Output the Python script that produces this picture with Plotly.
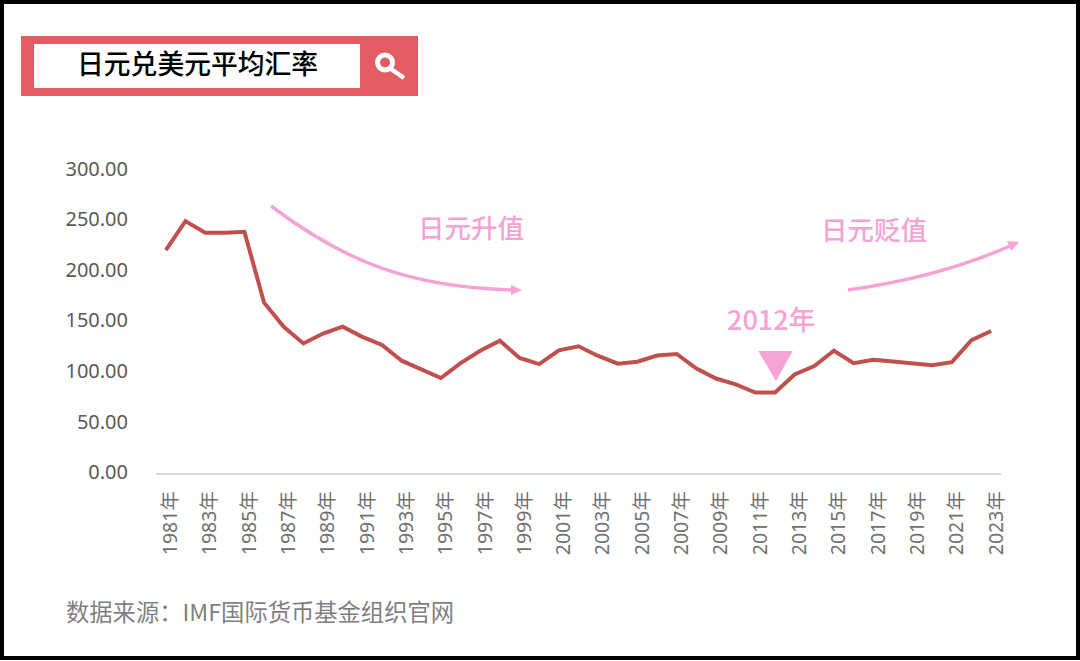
import plotly.graph_objects as go

W, H = 1080, 661
years = list(range(1981, 2024))
categories = [f"{y}年" for y in years]
rates = [220.5, 249.0, 237.5, 237.5, 238.5, 168.5, 144.6, 128.2, 138.0, 144.8,
         134.7, 126.7, 111.2, 102.2, 94.1, 108.8, 121.0, 130.9, 113.9, 107.8,
         121.5, 125.4, 115.9, 108.2, 110.2, 116.3, 117.8, 103.4, 93.6, 87.8,
         79.8, 79.8, 97.6, 105.9, 121.0, 108.8, 112.2, 110.4, 109.0, 106.8,
         109.8, 131.5, 140.5]
x_ticks = categories[::2]
y_ticks = [0, 50, 100, 150, 200, 250, 300]

RED = "#E35B63"
PINK = "#F5A3D5"
LINE = "#C0504D"
CJK = "'Noto Sans','Noto Sans CJK SC',sans-serif"
CJK_ONLY = "'Noto Sans CJK SC','Noto Sans',sans-serif"


def px(x):
    return x / W


def py(y):
    return 1 - y / H


def rect(x0, y0, x1, y1, color):
    return dict(type="rect", xref="paper", yref="paper", x0=px(x0), x1=px(x1),
                y0=py(y0), y1=py(y1), fillcolor=color, line=dict(width=0), layer="below")


def path(pts, close=False, fill=None, line=None, width=0, curve=False):
    def P(p):
        return f"{px(p[0])},{py(p[1])}"
    if curve:
        d = "M" + P(pts[0]) + " C" + " ".join(P(p) for p in pts[1:])
    else:
        d = "M" + " L".join(P(p) for p in pts) + (" Z" if close else "")
    return dict(type="path", xref="paper", yref="paper", path=d,
                fillcolor=fill if fill else "rgba(0,0,0,0)",
                line=dict(color=line if line else "rgba(0,0,0,0)", width=width))


shapes = [
    rect(21, 36, 418, 96, RED),
    rect(34, 44, 360, 88, "white"),
    dict(type="circle", xref="paper", yref="paper", x0=px(377.5), x1=px(392.5), y0=py(55), y1=py(70),
         fillcolor="rgba(0,0,0,0)", line=dict(color="white", width=5)),
    path([(391, 69), (404, 78)], line="white", width=4.5),
    # frame
    dict(type="rect", xref="paper", yref="paper", x0=px(2), x1=px(1078), y0=py(2), y1=py(658),
         fillcolor="rgba(0,0,0,0)", line=dict(color="black", width=4)),
    # descending arrow
    path([(271, 206), (345, 262), (410, 287), (512, 290)], line=PINK, width=3.5, curve=True),
    path([(522, 290), (511, 285), (511, 295)], close=True, fill=PINK),
    # rising arrow
    path([(848, 290), (905, 282), (960, 268), (1010, 246)], line=PINK, width=3.5, curve=True),
    path([(1019, 242), (1007, 241), (1011, 251)], close=True, fill=PINK),
    # 2012 marker
    path([(760, 352), (791, 352), (776, 379)], close=True, fill=PINK, line=PINK, width=2),
]


def note(x, y, text, size, color, font=CJK, weight=400):
    return dict(xref="paper", yref="paper", x=px(x), y=py(y), text=text, showarrow=False,
                xanchor="left", yanchor="middle",
                font=dict(size=size, color=color, family=font, weight=weight))


annotations = [
    note(75, 62.5, "日元兑美元平均汇率", 26.8, "black", CJK_ONLY, 500),
    note(416, 226, "日元升值", 26.5, PINK, CJK_ONLY, 500),
    note(819, 228, "日元贬值", 26.5, PINK, CJK_ONLY, 500),
    note(725, 318, "2012年", 27, PINK, CJK_ONLY, 500),
    note(64, 611, "数据来源：IMF国际货币基金组织官网", 23.3, "#7F7F7F", CJK_ONLY),
]

fig = go.Figure(go.Scatter(x=categories, y=rates, mode="lines",
                           line=dict(color=LINE, width=4), hoverinfo="skip"))
fig.update_layout(
    width=W, height=H, margin=dict(l=0, r=0, t=0, b=0, autoexpand=False), autosize=False,
    paper_bgcolor="white", plot_bgcolor="white", showlegend=False,
    shapes=shapes, annotations=annotations,
    xaxis=dict(domain=[px(156), px(1001)], type="category", categoryorder="array",
               categoryarray=categories, range=[-0.5, 42.5],
               tickmode="array", tickvals=x_ticks, ticktext=x_ticks, tickangle=-90,
               showgrid=False, zeroline=False, showline=True, linecolor="#D9D9D9", linewidth=2,
               ticks="", ticklabelstandoff=8, ticklabelshift=5,
               tickfont=dict(size=19.5, color="#707070", family=CJK)),
    yaxis=dict(domain=[py(473.3), py(169.5)], range=[0, 300], tickmode="array", tickvals=y_ticks,
               tickformat=".2f", showgrid=False, zeroline=False, showline=False, ticks="",
               ticklabelstandoff=27, ticklabelshift=-1,
               tickfont=dict(size=20, color="#595959", family=CJK)),
)
fig.write_html("out.html", config={"displayModeBar": False},
               post_script="document.body.style.margin='0';")
